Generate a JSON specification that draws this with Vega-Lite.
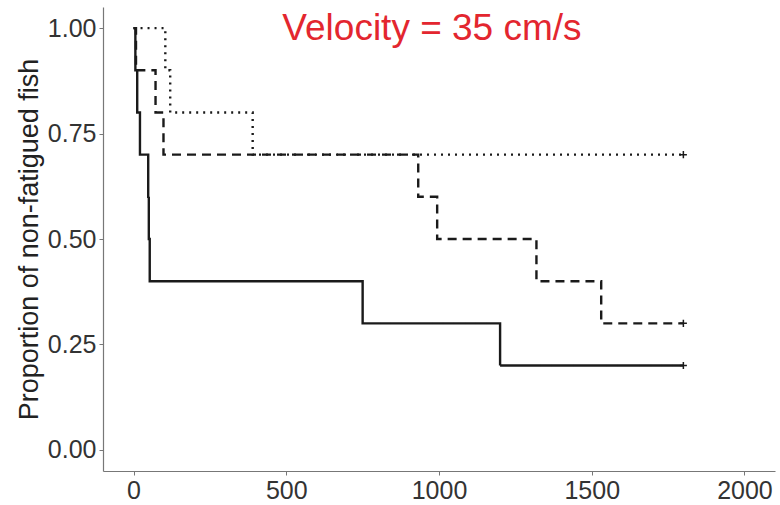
{
  "$schema": "https://vega.github.io/schema/vega-lite/v6.json",
  "autosize": {"type": "none"},
  "width": 672,
  "height": 464,
  "padding": {"left": 103, "top": 7, "right": 5, "bottom": 34},
  "background": "white",
  "config": {
    "view": {"stroke": null},
    "font": "Liberation Sans",
    "axis": {
      "grid": false,
      "domainColor": "#777",
      "domainWidth": 1.2,
      "tickColor": "#777",
      "tickSize": 4,
      "labelFontSize": 25,
      "labelColor": "#333",
      "labelFont": "Liberation Sans",
      "titleFont": "Liberation Sans",
      "titleFontWeight": "normal",
      "titleFontSize": 27,
      "titleColor": "#222",
      "labelPadding": 3
    }
  },
  "datasets": {
    "curves": [
      {"group": "A", "time": 0, "surv": 1.0},
      {"group": "A", "time": 6, "surv": 0.9},
      {"group": "A", "time": 12, "surv": 0.8},
      {"group": "A", "time": 21, "surv": 0.7},
      {"group": "A", "time": 48, "surv": 0.6},
      {"group": "A", "time": 50, "surv": 0.5},
      {"group": "A", "time": 53, "surv": 0.4},
      {"group": "A", "time": 750, "surv": 0.3},
      {"group": "A", "time": 1200, "surv": 0.2},
      {"group": "A", "time": 1800, "surv": 0.2},
      {"group": "B", "time": 0, "surv": 1.0},
      {"group": "B", "time": 8, "surv": 0.9},
      {"group": "B", "time": 72, "surv": 0.8},
      {"group": "B", "time": 98, "surv": 0.7},
      {"group": "B", "time": 932, "surv": 0.6},
      {"group": "B", "time": 994, "surv": 0.5},
      {"group": "B", "time": 1319, "surv": 0.4},
      {"group": "B", "time": 1531, "surv": 0.3},
      {"group": "B", "time": 1800, "surv": 0.3},
      {"group": "C", "time": 0, "surv": 1.0},
      {"group": "C", "time": 104, "surv": 0.9},
      {"group": "C", "time": 120, "surv": 0.8},
      {"group": "C", "time": 390, "surv": 0.7},
      {"group": "C", "time": 1800, "surv": 0.7}
    ],
    "censor": [
      {"group": "A", "time": 1800, "surv": 0.2},
      {"group": "B", "time": 1800, "surv": 0.3},
      {"group": "C", "time": 1800, "surv": 0.7}
    ]
  },
  "layer": [
    {
      "data": {"name": "curves"},
      "mark": {"type": "line", "interpolate": "step-after", "color": "#1a1a1a", "strokeWidth": 2.4},
      "encoding": {
        "x": {"field": "time", "type": "quantitative", "scale": {"domain": [-100, 2100], "nice": false, "zero": false},
              "axis": {"values": [0, 500, 1000, 1500, 2000], "format": "d", "title": null}},
        "y": {"field": "surv", "type": "quantitative", "scale": {"domain": [-0.05, 1.05], "nice": false, "zero": false},
              "axis": {"values": [0, 0.25, 0.5, 0.75, 1], "format": ".2f", "title": "Proportion of non-fatigued fish", "titlePadding": 4}},
        "detail": {"field": "group"},
        "strokeDash": {"field": "group", "type": "nominal", "legend": null,
                       "scale": {"domain": ["A", "B", "C"], "range": [[1, 0], [9, 6], [2, 5]]}}
      }
    },
    {
      "data": {"name": "censor"},
      "mark": {"type": "point", "shape": "M-1,0L1,0M0,-1L0,1", "filled": false, "color": "#1a1a1a", "strokeWidth": 1.5, "size": 50, "opacity": 1},
      "encoding": {
        "x": {"field": "time", "type": "quantitative"},
        "y": {"field": "surv", "type": "quantitative"}
      }
    },
    {
      "data": {"values": [{"label": "Velocity = 35 cm/s"}]},
      "mark": {"type": "text", "color": "#e3262f", "fontSize": 37, "font": "Liberation Sans", "align": "center", "baseline": "alphabetic"},
      "encoding": {
        "x": {"datum": 977, "type": "quantitative"},
        "y": {"datum": 0.972, "type": "quantitative"},
        "text": {"field": "label"}
      }
    }
  ]
}
